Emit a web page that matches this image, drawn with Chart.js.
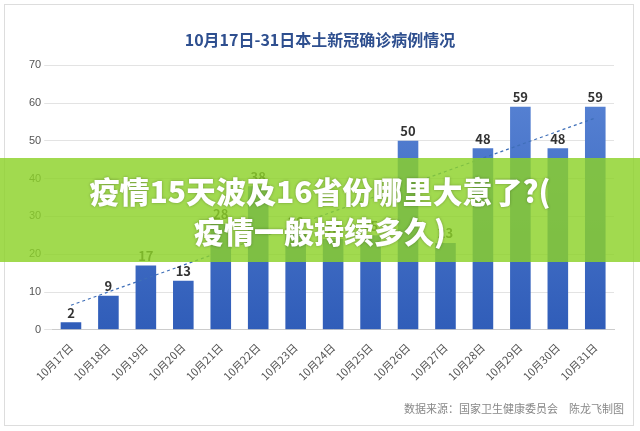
<!DOCTYPE html>
<html><head><meta charset="utf-8">
<script src="https://cdn.jsdelivr.net/npm/chart.js@4"></script>
<style>
body{margin:0;background:#fff;font-family:"Noto Sans CJK SC",sans-serif;}
#card{position:absolute;left:4px;top:4px;width:630px;height:422px;border:1px solid #ddd;box-sizing:border-box;}
#wrap{position:absolute;left:6px;top:6px;width:626px;height:418px;}
#banner{position:absolute;left:0;top:158px;width:640px;height:104px;background:rgba(140,210,40,0.82);
color:#fff;font-weight:900;font-size:30px;line-height:40px;text-align:center;padding-top:12px;box-sizing:border-box;
text-shadow:0 0 3px rgba(0,0,0,0.3);}
#src{position:absolute;right:16px;top:400px;font-size:11px;color:#888;}
</style></head><body>
<div id="card"></div>
<div id="wrap"><canvas id="c"></canvas></div>
<div id="src">数据来源：国家卫生健康委员会　陈龙飞制图</div>
<div id="banner">疫情15天波及16省份哪里大意了?(<br>疫情一般持续多久)</div>
<script>
// 10月17日-31日 本土新增确诊
const days = ['10月17日','10月18日','10月19日','10月20日','10月21日','10月22日','10月23日','10月24日','10月25日','10月26日','10月27日','10月28日','10月29日','10月30日','10月31日'];
const cases = [2, 9, 17, 13, 28, 38, 26, 24, 25, 50, 23, 48, 59, 48, 59];

// 线性趋势线
const n = cases.length;
const mx = (n - 1) / 2;
const my = cases.reduce((a, b) => a + b, 0) / n;
let sxy = 0, sxx = 0;
cases.forEach((v, i) => { sxy += (i - mx) * (v - my); sxx += (i - mx) * (i - mx); });
const slope = sxy / sxx;
const trend = cases.map((v, i) => my + slope * (i - mx));

const labelPlugin = {
    id: 'labels',
    afterDatasetsDraw(chart) {
        const c = chart.ctx;
        const meta = chart.getDatasetMeta(0);
        c.save();
        c.font = 'bold 13px "Noto Sans CJK SC"';
        c.fillStyle = '#333';
        c.textAlign = 'center';
        c.textBaseline = 'bottom';
        meta.data.forEach((bar, i) => c.fillText(cases[i], bar.x, bar.y - 3));
        c.restore();
    }
};

const ctx = document.getElementById('c').getContext('2d');
const grad = ctx.createLinearGradient(0, 60, 0, 330);
grad.addColorStop(0, '#5b86d6');
grad.addColorStop(1, '#2f5cb8');

new Chart(ctx, {
    type: 'bar',
    data: {
        labels: days,
        datasets: [{
            data: cases,
            backgroundColor: grad,
            barPercentage: 0.55,
            categoryPercentage: 1,
            order: 2
        }, {
            type: 'line',
            data: trend,
            borderColor: '#3f6fb8',
            borderWidth: 1.2,
            borderDash: [3, 3],
            pointRadius: 0,
            fill: false,
            order: 1
        }]
    },
    options: {
        responsive: true,
        maintainAspectRatio: false,
        animation: false,
        layout: { padding: { left: 20, right: 18, top: 4, bottom: 38 } },
        plugins: {
            legend: { display: false },
            tooltip: { enabled: false },
            title: {
                display: true,
                text: '10月17日-31日本土新冠确诊病例情况',
                color: '#2e4f8f',
                font: { size: 16, weight: 'bold', family: '"Noto Sans CJK SC"' },
                padding: { top: 20, bottom: 16 }
            }
        },
        scales: {
            y: {
                min: 0, max: 70,
                ticks: { stepSize: 10, color: '#555', font: { size: 11 } },
                grid: { color: '#e3e3e3' },
                border: { display: false }
            },
            x: {
                ticks: { color: '#555', font: { size: 11, family: '"Noto Sans CJK SC"' }, maxRotation: 45, minRotation: 45 },
                grid: { display: false },
                border: { color: '#ccc' }
            }
        }
    },
    plugins: [labelPlugin]
});
</script>
</body></html>
